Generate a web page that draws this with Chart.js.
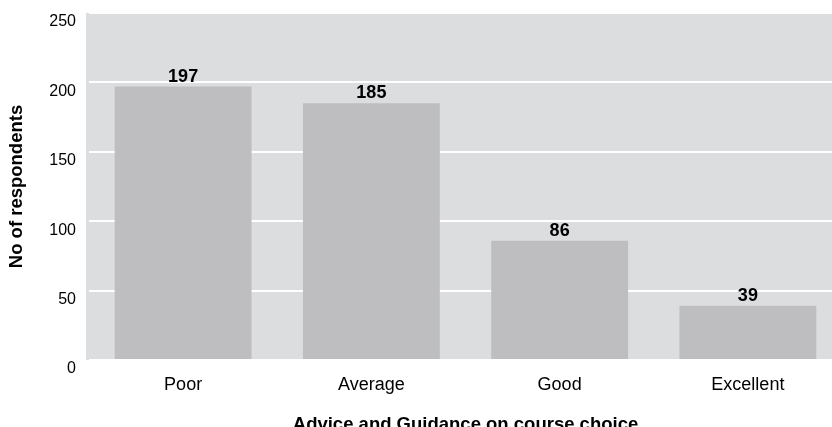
<!DOCTYPE html>
<html>
<head>
<meta charset="utf-8">
<script src="https://cdn.jsdelivr.net/npm/chart.js@4.4.0/dist/chart.umd.min.js"></script>
<style>
  html, body { margin: 0; padding: 0; background: #fff; overflow: hidden; }
  #wrap { width: 832px; height: 427px; overflow: hidden; }
</style>
</head>
<body>
<div id="wrap"><canvas id="myChart" width="845" height="436"></canvas></div>
<script>
// data
const categories = ['Poor', 'Average', 'Good', 'Excellent']
const respondents = [197, 185, 86, 39]
const yTicks = [0, 50, 100, 150, 200, 250]

const plotBg = 'rgb(220, 221, 223)'
const barColor = 'rgb(190, 190, 192)'
const fontName = '"Liberation Sans", Arial, sans-serif'

// grey panel behind the plot
const panelBg = {
  id: 'panelBg',
  beforeDraw: (chart) => {
    const {ctx, chartArea} = chart
    ctx.save()
    ctx.fillStyle = plotBg
    ctx.fillRect(chartArea.left - 3, chartArea.top, chartArea.right - chartArea.left + 3, chartArea.bottom - chartArea.top)
    ctx.restore()
  }
}

// numbers above the bars
const barLabels = {
  id: 'barLabels',
  afterDatasetsDraw: (chart) => {
    const {ctx} = chart
    const meta = chart.getDatasetMeta(0)
    ctx.save()
    ctx.font = 'bold 18px ' + fontName
    ctx.fillStyle = '#000'
    ctx.textAlign = 'center'
    ctx.textBaseline = 'alphabetic'
    meta.data.forEach((bar, i) => {
      ctx.fillText(respondents[i], bar.x, bar.y - 5)
    })
    ctx.restore()
  }
}

const data = {
  labels: categories,
  datasets: [{
    label: 'No of respondents',
    data: respondents,
    backgroundColor: barColor,
    borderWidth: 0,
    barPercentage: 0.727,
    categoryPercentage: 1
  }]
}

const config = {
  type: 'bar',
  data,
  options: {
    responsive: false,
    animation: false,
    layout: { padding: { top: 13, right: 3, left: 0, bottom: 0 } },
    plugins: {
      legend: { display: false },
      tooltip: { enabled: false }
    },
    scales: {
      x: {
        grid: { display: false, drawTicks: false },
        border: { display: false },
        ticks: { color: '#000', font: { family: fontName, size: 18 }, padding: 14 },
        title: {
          display: true,
          text: 'Advice and Guidance on course choice',
          color: '#000',
          font: { family: fontName, size: 18.5, weight: 'bold' },
          padding: { top: 0, bottom: 0 }
        },
        afterFit: (scale) => {
          scale.height = 76
          scale.paddingLeft = 0
          scale.paddingRight = 0
        }
      },
      y: {
        min: 0,
        max: 250,
        afterBuildTicks: (scale) => { scale.ticks = yTicks.map(v => ({value: v})) },
        grid: { color: '#fff', lineWidth: 2, drawTicks: false },
        border: { display: false },
        ticks: { color: '#000', font: { family: fontName, size: 16 }, padding: 13, labelOffset: 9 },
        title: {
          display: true,
          text: 'No of respondents',
          color: '#000',
          font: { family: fontName, size: 18.5, weight: 'bold' },
          padding: { top: 6, bottom: 0 }
        },
        afterFit: (scale) => {
          scale.width = 89
          scale.paddingTop = 0
          scale.paddingBottom = 0
        }
      }
    }
  },
  plugins: [panelBg, barLabels]
}

const myChart = new Chart(document.getElementById('myChart'), config)
</script>
</body>
</html>
